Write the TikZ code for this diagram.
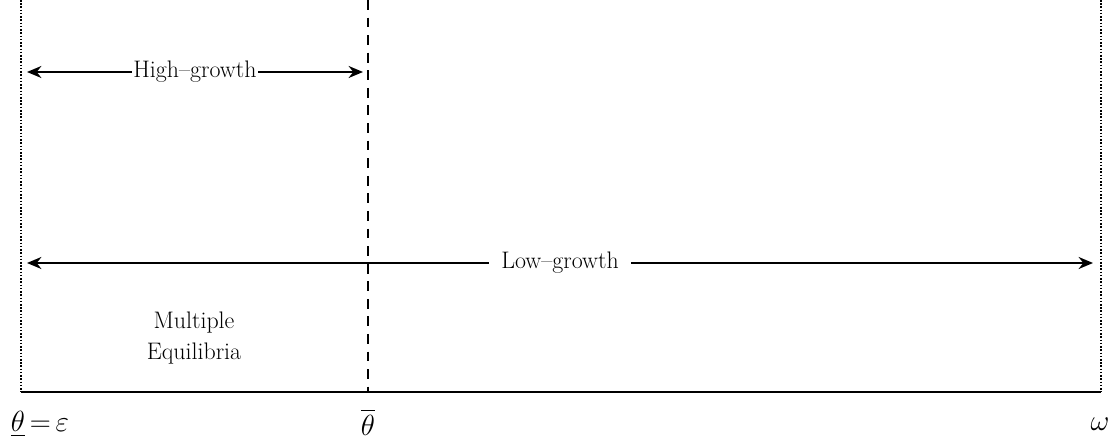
\documentclass[tikz,border=0pt]{standalone}
\usepackage{amsmath,amssymb}
\usetikzlibrary{arrows.meta,positioning}

\begin{document}
\begin{tikzpicture}[x=0.025cm,y=-0.025cm,>={Stealth[length=3.6mm,width=3mm]},font=\fontsize{17}{21.5}\selectfont,every node/.style={align=center}]
    \useasboundingbox (0,0) rectangle (1113,444);
    % region bounds and the threshold
    \coordinate (lt) at (21,0);    \coordinate (lb) at (21,392);
    \coordinate (rt) at (1101,0);  \coordinate (rb) at (1101,392);
    \coordinate (mt) at (368,0);   \coordinate (mb) at (368,392);
    \draw[line width=1.6pt,dash pattern=on 1.1pt off 1.2pt] (lt)--(lb);
    \draw[line width=1.6pt,dash pattern=on 1.1pt off 1.2pt] (rt)--(rb);
    \draw[line width=1.5pt,dash pattern=on 7pt off 5.5pt] (mt)--(mb);
    \draw[line width=1.6pt] (lb)--(rb);
    % regimes
    \coordinate (h0) at (27,72);  \coordinate (h1) at (363,72);
    \coordinate (g0) at (27,263); \coordinate (g1) at (1093,263);
    \draw[<->,line width=1.5pt] (h0)--node[fill=white,inner sep=1pt] (hg) {High--growth}(h1);
    \draw[<->,line width=1.5pt] (g0)--node[fill=white,inner xsep=9pt] (lg) {Low--growth}(g1);
    \node (me) at (194,338) {Multiple\\Equilibria};
    % axis labels
    \node[font=\fontsize{21}{25}\selectfont] (tl) at (40,424) {$\underline{\theta}\,{=}\,\varepsilon$};
    \node[font=\fontsize{21}{25}\selectfont] (tb) at (368,422) {$\overline{\theta}$};
    \node[font=\fontsize{21}{25}\selectfont] (om) at (1100,424) {$\omega$};
  \end{tikzpicture}
\end{document}
